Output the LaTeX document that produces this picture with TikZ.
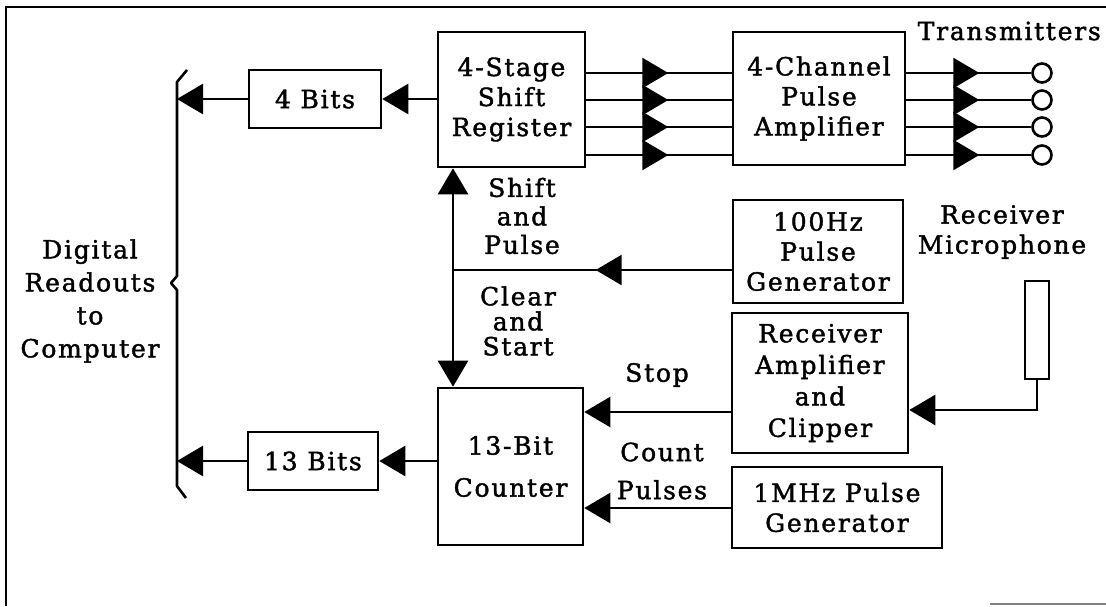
\documentclass[tikz,border=0pt]{standalone}
\usepackage{fontspec}
\setmainfont{DejaVu Serif}[LetterSpace=7,FakeBold=1.6]
\usetikzlibrary{arrows.meta,decorations.markings}
\begin{document}
\begin{tikzpicture}[x=1pt,y=-1pt,
  lw/.style={line width=2.6pt},
  blk/.style={draw,lw,inner sep=0pt,align=center,font=\fontsize{25}{30}\selectfont},
  txt/.style={inner sep=0pt,align=center,font=\fontsize{25}{30}\selectfont},
  arr/.style={lw,-{Triangle[length=26pt,width=30pt]}},
  barr/.style={lw,{Triangle[length=26pt,width=30pt]}-{Triangle[length=26pt,width=30pt]}},
  midarr/.style={lw,postaction={decorate},decoration={markings,mark=at position #1 with {\arrow{Triangle[length=26pt,width=30pt]}}}},
  ring/.style={draw,lw,circle,minimum size=19pt,inner sep=0pt}
]
\useasboundingbox (0,0) rectangle (1106,606);
% frame remnants
\draw[line width=2.4pt] (6,606) -- (6,7) -- (1106,7);
\draw[line width=1.5pt,gray] (990,604) -- (1106,604);

% boxes
\node[blk,minimum width=132pt,minimum height=58pt] (b4) at (315,99) {4 Bits};
\node[blk,minimum width=147pt,minimum height=135pt] (sr) at (511.5,99.5) {4-Stage\\Shift\\Register};
\node[blk,minimum width=172pt,minimum height=133pt] (amp) at (819,98.5) {4-Channel\\Pulse\\Amplifier};
\node[blk,minimum width=170pt,minimum height=103pt] (p100) at (818,251.5) {100Hz\\Pulse\\Generator};
\node[blk,minimum width=176pt,minimum height=140pt,font=\fontsize{25}{31.5}\selectfont] (ramp) at (820,383) {Receiver\\Amplifier\\and\\Clipper};
\node[blk,minimum width=210pt,minimum height=81pt] (p1m) at (837,507.5) {1MHz Pulse\\Generator};
\node[blk,minimum width=145pt,minimum height=157pt,font=\fontsize{25}{42}\selectfont] (ctr) at (510.5,466.5) {13-Bit\\Counter};
\node[blk,minimum width=130pt,minimum height=58pt] (b13) at (313,461) {13 Bits};
\node[draw,lw,minimum width=24pt,minimum height=98pt,inner sep=0pt] (mic) at (1037,330) {};

% labels
\node[txt,anchor=east] (ttx) at (1101,31) {Transmitters};
\node[txt] (trm) at (1002,232) {Receiver\\Microphone};
\node[txt,font=\fontsize{25}{28.5}\selectfont] (tsp) at (522,216) {Shift\\and\\Pulse};
\node[txt,font=\fontsize{25}{25}\selectfont] (tcs) at (518,321) {Clear\\and\\Start};
\node[txt] (tst) at (657,375) {Stop};
\node[txt,font=\fontsize{25}{38}\selectfont] (tcp) at (662,471) {Count\\Pulses};
\node[txt,font=\fontsize{25}{33}\selectfont] (tdr) at (90,301) {Digital\\Readouts\\to\\Computer};

% bracket
\coordinate (brT) at (177,99);
\coordinate (brB) at (177,461);
\draw[lw,line join=round] (187,70) -- (177,82) -- (177,276) -- (171,283) -- (177,290) -- (177,486) -- (186,498);

% connectors
\draw[arr] (sr.west |- b4.east) -- (b4.east);
\draw[arr] (b4.west) -- (brT);
\draw[arr] (ctr.west |- b13.east) -- (b13.east);
\draw[arr] (b13.west) -- (brB);

\foreach \yy [count=\i] in {73,100,127,155}{
  \node[ring] (c\i) at (1042,\yy) {};
  \draw[midarr=82pt] (sr.east |- 0,\yy) -- (amp.west |- 0,\yy);
  \draw[midarr=73pt] (amp.east |- 0,\yy) -- (c\i.west);
}

\coordinate (jn) at (453,270);
\draw[barr] (sr.south -| jn) -- (ctr.north -| jn);
\draw[midarr=136pt] (p100.west |- jn) -- (jn);

\draw[arr] (mic.south) |- (ramp.east |- 0,410);
\draw[arr] (ramp.west |- 0,412) -- (ctr.east |- 0,412);
\draw[arr] (p1m.west |- 0,508) -- (ctr.east |- 0,508);
\end{tikzpicture}
\end{document}
